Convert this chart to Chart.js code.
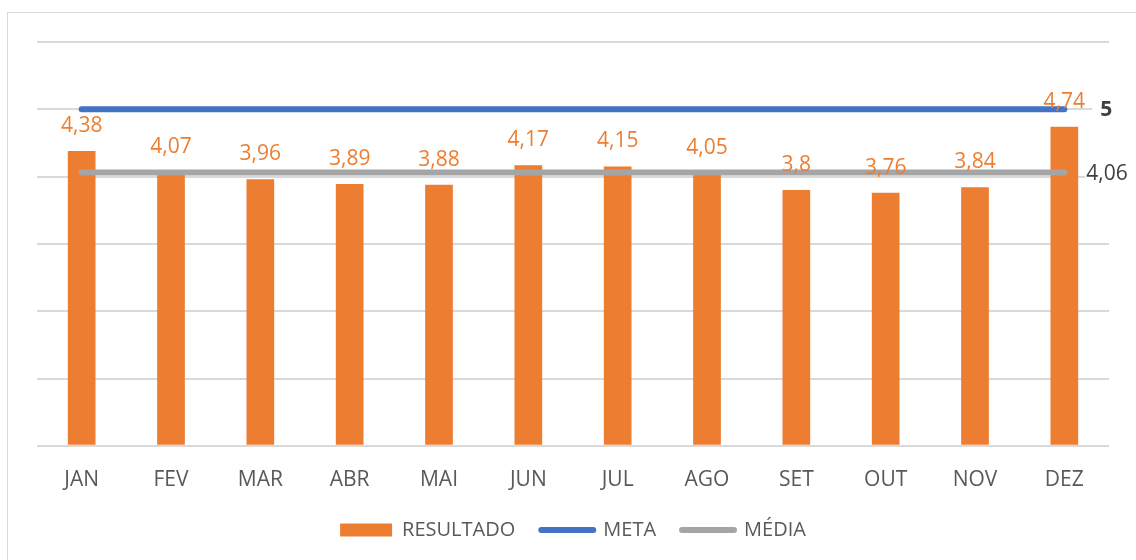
<!DOCTYPE html>
<html lang="pt-BR">
<head>
<meta charset="utf-8">
<title>Resultado mensal x Meta</title>
<script src="https://cdn.jsdelivr.net/npm/chart.js@4.4.1/dist/chart.umd.min.js"></script>
<style>
  html, body { margin: 0; padding: 0; background: #fff; overflow: hidden; }
  .frame { position: absolute; left: 7px; top: 12px; width: 1200px; height: 600px; border: 1px solid #d9d9d9; }
  .wrap { position: absolute; left: 0; top: 0; width: 1136px; height: 560px; }
</style>
</head>
<body>
<div class="frame"></div>
<div class="wrap"><canvas id="chart"></canvas></div>
<script>
// Monthly results vs target (META) and average (MÉDIA)
const MONTHS = ['JAN', 'FEV', 'MAR', 'ABR', 'MAI', 'JUN', 'JUL', 'AGO', 'SET', 'OUT', 'NOV', 'DEZ'];
const RESULTADO = [4.38, 4.07, 3.96, 3.89, 3.88, 4.17, 4.15, 4.05, 3.8, 3.76, 3.84, 4.74];
const META = [5, 5, 5, 5, 5, 5, 5, 5, 5, 5, 5, 5];
const MEDIA = [4.06, 4.06, 4.06, 4.06, 4.06, 4.06, 4.06, 4.06, 4.06, 4.06, 4.06, 4.06];
const Y_TICKS = [0, 1, 2, 3, 4, 5, 6];

const FONT = '"Open Sans", sans-serif';
const ORANGE = '#ED7D31';
const BLUE = '#4472C4';
const GRAY = '#A5A5A5';
const TEXT = '#595959';

const fmt = v => String(v).replace('.', ',');

// value labels above bars + end labels of the two lines
const valueLabels = {
  id: 'valueLabels',
  afterDatasetsDraw(chart) {
    const ctx = chart.ctx;
    ctx.save();
    ctx.textBaseline = 'middle';

    ctx.textAlign = 'center';
    ctx.font = '21px ' + FONT;
    ctx.fillStyle = ORANGE;
    chart.getDatasetMeta(0).data.forEach((bar, i) => {
      ctx.fillText(fmt(RESULTADO[i]), bar.x, bar.y - 25);
    });

    ctx.textAlign = 'left';
    const metaPts = chart.getDatasetMeta(1).data;
    const metaEnd = metaPts[metaPts.length - 1];
    ctx.fillStyle = '#fff';
    ctx.fillRect(metaEnd.x + 28, metaEnd.y - 12, 60, 24);
    ctx.font = 'bold 21px ' + FONT;
    ctx.fillStyle = '#404040';
    ctx.fillText(fmt(META[META.length - 1]), metaEnd.x + 36, metaEnd.y + 1);

    const mediaPts = chart.getDatasetMeta(2).data;
    const mediaEnd = mediaPts[mediaPts.length - 1];
    ctx.fillStyle = '#fff';
    ctx.fillRect(mediaEnd.x + 21, mediaEnd.y - 12, 60, 24);
    ctx.font = '21px ' + FONT;
    ctx.fillStyle = '#404040';
    ctx.fillText(fmt(MEDIA[MEDIA.length - 1]), mediaEnd.x + 22, mediaEnd.y + 1);
    ctx.restore();
  }
};

new Chart(document.getElementById('chart'), {
  data: {
    labels: MONTHS,
    datasets: [
      {
        type: 'bar',
        label: 'RESULTADO',
        data: RESULTADO,
        backgroundColor: ORANGE,
        borderWidth: 0,
        barPercentage: 0.31,
        categoryPercentage: 1,
        order: 1,
      },
      {
        type: 'line',
        label: 'META',
        data: META,
        borderColor: BLUE,
        backgroundColor: BLUE,
        borderWidth: 6,
        borderCapStyle: 'round',
        pointRadius: 0,
        fill: false,
        order: 0,
      },
      {
        type: 'line',
        label: 'MÉDIA',
        data: MEDIA,
        borderColor: GRAY,
        backgroundColor: GRAY,
        borderWidth: 6,
        borderCapStyle: 'round',
        pointRadius: 0,
        fill: false,
        order: 0,
      },
    ],
  },
  options: {
    responsive: true,
    maintainAspectRatio: false,
    animation: false,
    layout: { padding: { left: 37, right: 27, top: 42, bottom: 10 } },
    plugins: {
      tooltip: { enabled: false },
      legend: {
        position: 'bottom',
        labels: {
          usePointStyle: true,
          pointStyleWidth: 52,
          boxHeight: 13,
          padding: 26,
          color: TEXT,
          font: { family: FONT, size: 20 },
          sort: (a, b) => a.datasetIndex - b.datasetIndex,
          generateLabels(chart) {
            const items = Chart.defaults.plugins.legend.labels.generateLabels(chart);
            items.forEach(it => {
              const ds = chart.data.datasets[it.datasetIndex];
              if (ds.type === 'line') {
                it.pointStyle = 'line';
                it.strokeStyle = ds.borderColor;
                it.lineWidth = ds.borderWidth;
                it.lineCap = 'round';
              } else {
                it.pointStyle = 'rect';
                it.fillStyle = ds.backgroundColor;
                it.lineWidth = 0;
              }
            });
            return items;
          },
        },
      },
    },
    scales: {
      x: {
        grid: { display: false, drawTicks: false },
        border: { display: false },
        ticks: { color: TEXT, padding: 22, font: { family: FONT, size: 21 } },
        afterFit: axis => { axis.height -= 21; },
      },
      y: {
        min: Y_TICKS[0],
        max: Y_TICKS[Y_TICKS.length - 1],
        afterBuildTicks: axis => { axis.ticks = Y_TICKS.map(v => ({ value: v })); },
        grid: { color: '#d9d9d9', lineWidth: 2, drawTicks: false },
        border: { display: false },
        ticks: { display: false },
      },
    },
  },
  plugins: [valueLabels],
});
</script>
</body>
</html>
